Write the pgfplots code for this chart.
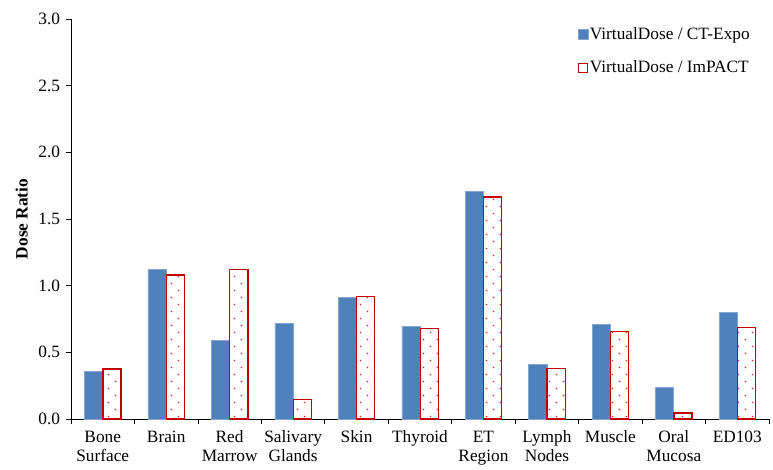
\documentclass[border=0pt]{standalone}
\usepackage{fontspec}
\setmainfont{Liberation Serif}
\usepackage{pgfplots}
\usepackage{pgfplotstable}
\pgfplotsset{compat=1.18}
\usetikzlibrary{patterns}

\definecolor{vdblue}{HTML}{4F81BD}
\definecolor{vdred}{HTML}{C00000}
\definecolor{dotred}{HTML}{C82828}

% staggered sparse dots, as in the ImPACT bars
\pgfdeclarepatternformonly{sparsedots}{\pgfpoint{-1pt}{-1pt}}{\pgfpoint{15pt}{15pt}}{\pgfpoint{14pt}{14pt}}{
  \pgfpathcircle{\pgfpoint{3.5pt}{3.5pt}}{0.9pt}
  \pgfpathcircle{\pgfpoint{10.5pt}{10.5pt}}{0.9pt}
  \pgfusepath{fill}
}

% dose ratios
\pgfplotstableread{
x ctexpo impact
0  0.355 0.375
1  1.125 1.080
2  0.590 1.120
3  0.720 0.145
4  0.910 0.920
5  0.695 0.680
6  1.710 1.665
7  0.410 0.380
8  0.710 0.655
9  0.235 0.045
10 0.800 0.685
}\dosedata

\begin{document}
\fontsize{17.3}{19}\selectfont
\begin{tikzpicture}
\useasboundingbox (-71pt,-50pt) rectangle (702pt,419pt);
\begin{axis}[
    width=698pt, height=400pt, scale only axis,
    axis lines*=left,
    axis line style={black, line width=0.8pt},
    tick style={black, line width=0.8pt},
    tick align=outside,
    major tick length=5pt,
    xmin=-0.5, xmax=10.5,
    ymin=0, ymax=3,
    ytick={0,0.5,...,3},
    yticklabel style={/pgf/number format/.cd, fixed, fixed zerofill, precision=1, assume math mode=true},
    xtick={-0.5,0.5,...,10.5},
    x tick label as interval,
    xticklabels={{Bone\\Surface},Brain,{Red\\Marrow},{Salivary\\Glands},Skin,Thyroid,{ET\\Region},{Lymph\\Nodes},Muscle,{Oral\\Mucosa},ED103},
    xticklabel style={align=center, anchor=north, yshift=-1pt},
    ylabel={\textbf{Dose Ratio}},
    ylabel style={yshift=-1pt},
    legend style={draw=none, fill=none, at={(rel axis cs:0.726,0.99)}, anchor=north west,
        row sep=15pt, legend cell align=left, inner xsep=0pt,
        nodes={inner xsep=1.5pt}},
    legend image code/.code={\draw[#1] (0pt,-5pt) rectangle (10pt,5pt);},
]
\addplot[ybar, bar width=0.285, bar shift=-0.145, fill=vdblue, draw=vdblue!70!white, line width=0.5pt]
    table[x=x, y=ctexpo] {\dosedata};
\addlegendentry{VirtualDose / CT-Expo}
\addplot[ybar, bar width=0.285, bar shift=0.145, draw=vdred, line width=1.3pt,
    pattern=sparsedots, pattern color=dotred,
    legend image code/.code={\draw[draw=vdred, line width=1.3pt, fill=white] (0.5pt,-4.5pt) rectangle (9.5pt,4.5pt);}]
    table[x=x, y=impact] {\dosedata};
\addlegendentry{VirtualDose / ImPACT}
\end{axis}
\end{tikzpicture}
\end{document}
